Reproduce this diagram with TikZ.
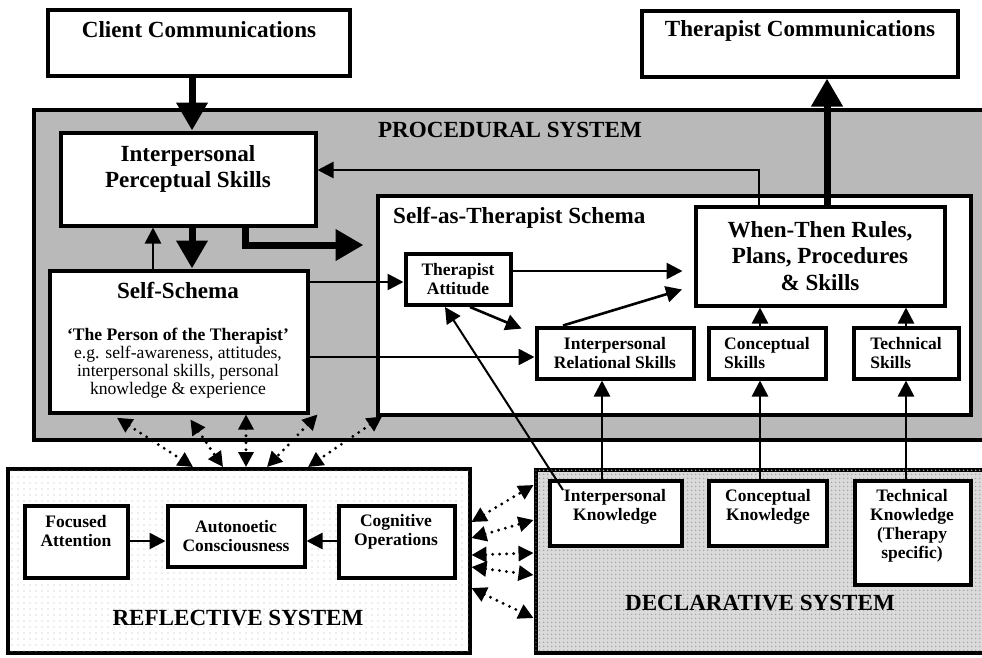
\documentclass[tikz,border=0pt]{standalone}
\usepackage{fontspec}
\setmainfont{Liberation Serif}
\usetikzlibrary{arrows.meta,patterns.meta}
\begin{document}
\begin{tikzpicture}[x=1pt, y=-1pt, >={Triangle[length=16pt,width=16pt]},
  box/.style={draw, line width=4pt, fill=white, inner sep=0pt, align=center},
  bigtxt/.style={font=\fontsize{23.1}{26.5}\selectfont\bfseries},
  smalltxt/.style={font=\fontsize{17.5}{19}\selectfont\bfseries},
  desctxt/.style={font=\fontsize{17.6}{18}\selectfont},
  txt/.style={inner sep=0pt, align=center},
  arr/.style={->, line width=2.6pt},
  bigarr/.style={-{Triangle[length=28pt,width=30pt]}, line width=7pt},
  dotarr/.style={{Triangle[length=15pt,width=15pt]}-{Triangle[length=15pt,width=15pt]}, line width=3.2pt, line cap=round, dash pattern=on 0pt off 7pt}]
\useasboundingbox (0,0) rectangle (982,657);
\node[box, fill=gray!55, minimum width=966pt, minimum height=330pt] (ps) at (517,274.5) {};
\node[txt, bigtxt, anchor=base] (ps-t) at (510,137) {PROCEDURAL SYSTEM};
\node[box, postaction={pattern={Dots[distance=6pt,radius=.7pt]}, pattern color=gray!60}, minimum width=462pt, minimum height=184pt] (rs) at (238.5,561) {};
\node[txt, bigtxt, anchor=base] (rs-t) at (238,625) {REFLECTIVE SYSTEM};
\node[box, fill=gray!28, postaction={pattern={Dots[distance=4pt,radius=1pt]}, pattern color=gray!70}, minimum width=465pt, minimum height=183pt] (ds) at (768,561) {};
\node[txt, bigtxt, anchor=base] (ds-t) at (760,610) {DECLARATIVE SYSTEM};

\node[box, minimum width=302pt, minimum height=66pt] (cc) at (199,43) {};
\node[txt, bigtxt, anchor=base] (cc-t) at (199,37) {Client Communications};
\node[box, minimum width=316pt, minimum height=66pt] (tc) at (800,43.5) {};
\node[txt, bigtxt, anchor=base] (tc-t) at (800,36) {Therapist Communications};

\node[box, minimum width=255pt, minimum height=93pt] (ips) at (188,179) {};
\node[txt, bigtxt] (ips-t) at (188,169) {Interpersonal\\Perceptual Skills};
\node[box, minimum width=258pt, minimum height=142pt] (ss) at (178.5,341.5) {};
\node[txt, bigtxt, anchor=base] (ss-t) at (178,298) {Self-Schema};
\node[txt, desctxt] (ss-d) at (178,363) {\textbf{`The Person of the Therapist'}\\e.g. self-awareness, attitudes,\\interpersonal skills, personal\\knowledge \& experience};
\node[box, minimum width=593pt, minimum height=219pt] (sat) at (674,305) {};
\node[txt, bigtxt, anchor=base west] (sat-t) at (393,223) {Self-as-Therapist Schema};
\node[box, smalltxt, minimum width=105pt, minimum height=51pt] (ta) at (458,279.5) {Therapist\\Attitude};
\node[box, bigtxt, minimum width=249pt, minimum height=99pt] (wt) at (820,256) {When-Then Rules,\\Plans, Procedures\\\& Skills};
\node[box, smalltxt, minimum width=157pt, minimum height=51pt] (irs) at (615,353) {Interpersonal\\Relational Skills};
\node[box, smalltxt, align=left, minimum width=117pt, minimum height=51pt] (cs) at (767,353) {Conceptual\\Skills};
\node[box, smalltxt, align=left, minimum width=105pt, minimum height=51pt] (ts) at (906,353) {Technical\\Skills};

\node[box, minimum width=103pt, minimum height=72pt] (fa) at (76,541.5) {};
\node[txt, smalltxt] (fa-t) at (76,531) {Focused\\Attention};
\node[box, smalltxt, minimum width=137pt, minimum height=61pt] (ac) at (236,536) {Autonoetic\\Consciousness};
\node[box, minimum width=116pt, minimum height=72pt] (co) at (396.5,541.5) {};
\node[txt, smalltxt] (co-t) at (396,532) {Cognitive\\Operations};

\node[box, minimum width=132pt, minimum height=65pt] (ik) at (615.5,513) {};
\node[txt, smalltxt] (ik-t) at (615,507) {Interpersonal\\Knowledge};
\node[box, minimum width=118pt, minimum height=65pt] (ck) at (768,513) {};
\node[txt, smalltxt] (ck-t) at (768,507) {Conceptual\\Knowledge};
\node[box, minimum width=116pt, minimum height=104pt] (tk) at (912.5,532.5) {};
\node[txt, smalltxt] (tk-t) at (912,526) {Technical\\Knowledge\\(Therapy\\specific)};
\coordinate (ik-in) at (563,490);

\draw[bigarr] (cc.south -| 192,0) -- (ips.north -| 192,0);
\draw[bigarr] (ips.south -| 192,0) -- (ss.north -| 192,0);
\draw[arr] (ss.north -| 153,0) -- (ips.south -| 153,0);
\draw[bigarr, shorten >=12pt] (ips.south -| 245,0) |- (sat.west |- 0,245);
\draw[arr] (wt.north -| 759,0) |- (ips.east |- 0,170);
\draw[bigarr] (wt.north -| 827,0) -- (tc.south -| 827,0);
\draw[arr] (ss.east |- 0,282) -- (ta.west |- 0,282);
\draw[arr] (ss.east |- 0,357) -- (irs.west |- 0,357);
\draw[arr, shorten >=11pt] (ta.east |- 0,271) -- (wt.west |- 0,271);
\draw[arr, shorten >=12pt] (irs.north -| 563,0) -- (wt.west |- 0,286);
\draw[arr, shorten >=14pt] (ta.south -| 470,0) -- (irs.west |- 0,334);
\draw[arr] (cs.north -| 760,0) -- (wt.south -| 760,0);
\draw[arr] (ts.north -| 906,0) -- (wt.south -| 906,0);
\draw[arr] (ik.north -| 602,0) -- (irs.south -| 602,0);
\draw[arr] (ck.north -| 760,0) -- (cs.south -| 760,0);
\draw[arr] (tk.north -| 906,0) -- (ts.south -| 906,0);
\draw[arr, line width=2pt] (ik-in) -- (ta.south -| 445,0);
\draw[arr] (fa.east |- 0,541) -- (ac.west |- 0,541);
\draw[arr] (co.west |- 0,541) -- (ac.east |- 0,541);

\draw[dotarr, shorten <=6pt] (ss.south -| 112,0) -- (rs.north -| 193,0);
\draw[dotarr, shorten <=6pt] (ss.south -| 187,0) -- (rs.north -| 223,0);
\draw[dotarr] (ss.south -| 246,0) -- (rs.north -| 246,0);
\draw[dotarr] ([xshift=8pt]ss.south east) -- (rs.north -| 267,0);
\draw[dotarr] (sat.south -| 382,0) -- (rs.north -| 308,0);
\draw[dotarr] (rs.east |- 0,522) -- (ds.west |- 0,485);
\draw[dotarr] (rs.east |- 0,538) -- (ds.west |- 0,520);
\draw[dotarr] (rs.east |- 0,555) -- (ds.west |- 0,553);
\draw[dotarr] (rs.east |- 0,567) -- (ds.west |- 0,575);
\draw[dotarr] (rs.east |- 0,588) -- (ds.west |- 0,618);
\end{tikzpicture}
\end{document}
